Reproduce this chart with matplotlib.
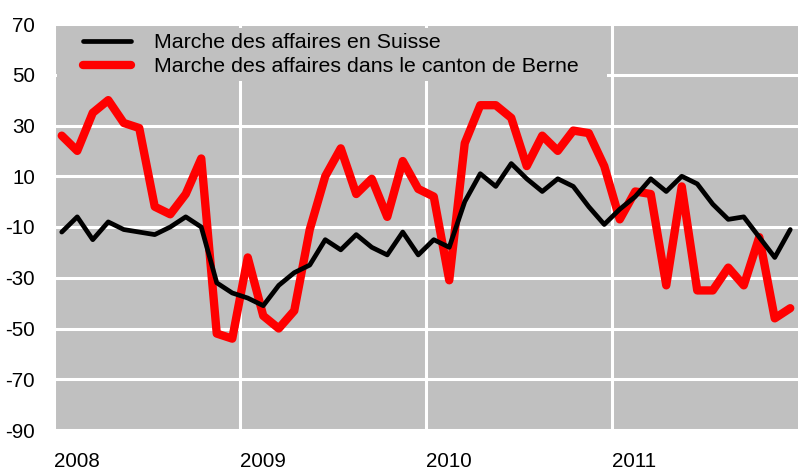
import matplotlib
matplotlib.use("Agg")
import numpy as np
from matplotlib import pyplot as plt
from matplotlib.patches import Rectangle

# monthly values, Jan 2008 - Dec 2011
suisse = [-12, -6, -15, -8, -11, -12, -13, -10, -6, -10, -32, -36,
          -38, -41, -33, -28, -25, -15, -19, -13, -18, -21, -12, -21,
          -15, -18, 0, 11, 6, 15, 9, 4, 9, 6, -2, -9,
          -3, 2, 9, 4, 10, 7, -1, -7, -6, -14, -22, -11]
berne = [26, 20, 35, 40, 31, 29, -2, -5, 3, 17, -52, -54,
         -22, -45, -50, -43, -11, 10, 21, 3, 9, -6, 16, 5,
         2, -31, 23, 38, 38, 33, 14, 26, 20, 28, 27, 14,
         -7, 4, 3, -33, 6, -35, -35, -26, -33, -14, -46, -42]

labels = ["Marche des affaires en Suisse",
          "Marche des affaires dans le canton de Berne"]
years = [2008, 2009, 2010, 2011]
yticks = [-90, -70, -50, -30, -10, 10, 30, 50, 70]

plt.rcParams['font.family'] = ['Liberation Sans', 'DejaVu Sans']
plt.rcParams['axes.unicode_minus'] = False

x = 2008 + (np.arange(len(suisse)) + 0.5) / 12.0

fig = plt.figure(figsize=(7.98, 4.71), dpi=100)
ax = fig.add_axes([54 / 798, 41 / 471, 744 / 798, 406 / 471])
ax.set_facecolor('#c0c0c0')

ax.plot(x, suisse, color='black', lw=3.4, label=labels[0],
        solid_joinstyle='round', solid_capstyle='round', zorder=3)
ax.plot(x, berne, color='#ff0000', lw=6.0, label=labels[1],
        solid_joinstyle='round', solid_capstyle='round', zorder=2)

ax.set_xlim(2008, 2012)
ax.set_ylim(-90, 70)
ax.set_yticks(yticks)
ax.set_xticks(years)
ax.set_xticklabels([str(y) for y in years], ha='left')
ax.tick_params(axis='both', length=0, labelsize=14.8, colors='black')
ax.tick_params(axis='y', pad=13.5)
ax.tick_params(axis='x', pad=15.5)

ax.set_axisbelow(True)
ax.grid(True, color='white', lw=2.2)
for s in ax.spines.values():
    s.set_visible(False)

# legend background hides the grid line behind it
ax.add_patch(Rectangle((0.004, 0.86), 0.739, 0.13, transform=ax.transAxes,
                       facecolor='#c0c0c0', edgecolor='none', zorder=1))

ax.legend(loc='upper left', bbox_to_anchor=(0.039, 0.977), frameon=False,
          fontsize=15.4, handlelength=2.25, handletextpad=1.07,
          labelspacing=0.22, borderpad=0, borderaxespad=0)

fig.savefig("out.png", dpi=100)
